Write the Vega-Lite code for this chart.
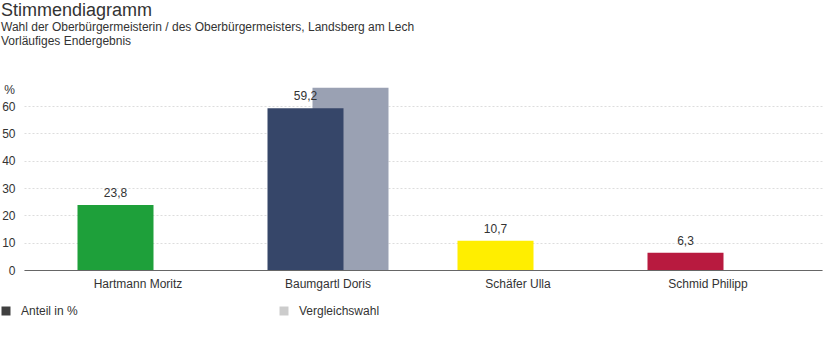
{
  "$schema": "https://vega.github.io/schema/vega-lite/v6.json",
  "autosize": {"type": "none"},
  "width": 798,
  "height": 183,
  "padding": {"left": 24, "top": 87, "right": 1, "bottom": 82},
  "background": "#ffffff",
  "title": {
    "text": "Stimmendiagramm",
    "subtitle": ["Wahl der Oberbürgermeisterin / des Oberbürgermeisters, Landsberg am Lech", "Vorläufiges Endergebnis"],
    "anchor": "start",
    "frame": "group",
    "dx": -23,
    "offset": 36,
    "fontSize": 18,
    "fontWeight": "normal",
    "color": "#333333",
    "subtitleFontSize": 12,
    "subtitleColor": "#333333",
    "subtitleLineHeight": 14,
    "subtitlePadding": 2
  },
  "datasets": {
    "ergebnis": [
      {"kandidat": "Hartmann Moritz", "anteil": 23.8, "vergleich": null},
      {"kandidat": "Baumgartl Doris", "anteil": 59.2, "vergleich": 66.7},
      {"kandidat": "Schäfer Ulla", "anteil": 10.7, "vergleich": null},
      {"kandidat": "Schmid Philipp", "anteil": 6.3, "vergleich": null}
    ],
    "legende": [
      {"serie": "Anteil in %"},
      {"serie": "Vergleichswahl"}
    ]
  },
  "encoding": {
    "x": {
      "field": "kandidat", "type": "nominal",
      "scale": {"domain": ["Hartmann Moritz", "Baumgartl Doris", "Schäfer Ulla", "Schmid Philipp"], "paddingInner": 0, "paddingOuter": 0.1},
      "axis": {"title": null, "labelAngle": 0, "ticks": false, "labelPadding": 8, "domainColor": "#666666", "labelFontSize": 12, "labelColor": "#333333", "zindex": 1}
    }
  },
  "layer": [
    {
      "data": {"name": "ergebnis"},
      "mark": {"type": "bar", "width": {"band": 0.4}, "xOffset": 22.5, "color": "#9aa1b3"},
      "encoding": {
        "y": {
          "field": "vergleich", "type": "quantitative",
          "scale": {"domain": [0, 67], "nice": false},
          "axis": {
            "values": [0, 10, 20, 30, 40, 50, 60], "tickCount": 7, "labelOverlap": false,
            "title": "%", "titleAngle": 0, "titleX": -15, "titleY": 2, "titleAlign": "center", "titleBaseline": "middle",
            "titleFontWeight": "normal", "titleFontSize": 12, "titleColor": "#333333",
            "domain": false, "ticks": false, "labelPadding": 9, "labelFontSize": 12, "labelColor": "#333333",
            "grid": true, "gridDash": [2, 2], "gridColor": "#dddddd"
          }
        }
      }
    },
    {
      "data": {"name": "ergebnis"},
      "mark": {"type": "bar", "width": {"band": 0.4}, "xOffset": -22.5},
      "encoding": {
        "y": {
          "field": "anteil", "type": "quantitative",
          "axis": {
            "values": [0, 10, 20, 30, 40, 50, 60], "tickCount": 7, "labelOverlap": false,
            "title": "%", "titleAngle": 0, "titleX": -15, "titleY": 2, "titleAlign": "center", "titleBaseline": "middle",
            "titleFontWeight": "normal", "titleFontSize": 12, "titleColor": "#333333",
            "domain": false, "ticks": false, "labelPadding": 9, "labelFontSize": 12, "labelColor": "#333333",
            "grid": true, "gridDash": [2, 2], "gridColor": "#dddddd"
          }
        },
        "color": {
          "field": "kandidat", "type": "nominal",
          "scale": {"domain": ["Hartmann Moritz", "Baumgartl Doris", "Schäfer Ulla", "Schmid Philipp"], "range": ["#1ea03a", "#364669", "#ffee00", "#b81a3f"]},
          "legend": null
        }
      }
    },
    {
      "data": {"name": "ergebnis"},
      "mark": {"type": "text", "xOffset": -22.5, "dy": -5, "baseline": "bottom", "fontSize": 12, "color": "#333333"},
      "encoding": {
        "y": {"field": "anteil", "type": "quantitative"},
        "text": {"field": "anteil", "type": "quantitative", "format": ".1f"}
      }
    },
    {
      "data": {"name": "legende"},
      "mark": {"type": "square", "opacity": 0},
      "encoding": {
        "x": null,
        "color": {
          "field": "serie", "type": "nominal",
          "scale": {"domain": ["Anteil in %", "Vergleichswahl"], "range": ["#404040", "#cccccc"]},
          "legend": {
            "title": null, "orient": "none", "legendX": -24, "legendY": 218,
            "direction": "horizontal", "columns": 2, "columnPadding": 200,
            "symbolType": "square", "symbolSize": 81, "symbolOpacity": 1, "symbolStrokeWidth": 0,
            "labelFontSize": 12, "labelColor": "#333333", "labelOffset": 9
          }
        }
      }
    }
  ],
  "resolve": {"scale": {"color": "independent"}, "legend": {"color": "independent"}},
  "config": {
    "font": "Liberation Sans",
    "view": {"stroke": null},
    "axisY": {"tickCount": 7},
    "locale": {"number": {"decimal": ",", "thousands": ".", "grouping": [3], "currency": ["", " €"]}}
  }
}
